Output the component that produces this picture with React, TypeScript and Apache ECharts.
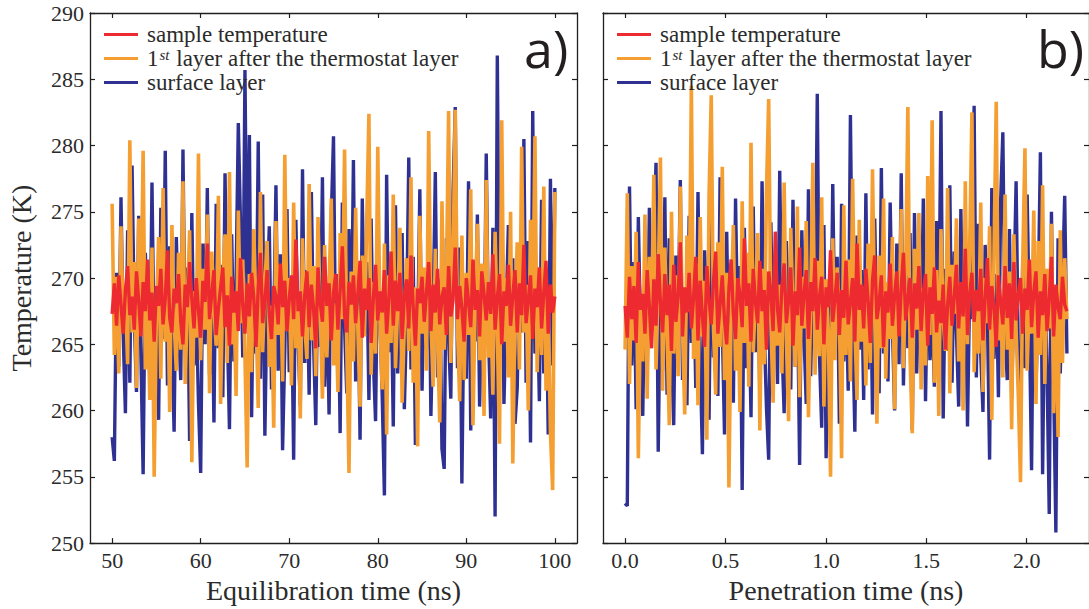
import { useEffect, useRef } from "react";
import * as echarts from "echarts";

// ---- data ----
const EQ_TIME_START = 50;
const EQ_TIME_END = 100;
const PEN_TIME_START = 0;
const PEN_TIME_END = 2.2;

const eqTicks = [50, 60, 70, 80, 90, 100];
const penTicks = [0, 0.5, 1, 1.5, 2];

const seriesNames = [
  "sample temperature",
  "1st layer after the thermostat layer",
  "surface layer",
];

const eqSample = [
  267.3, 269.6, 266.4, 270.2, 268.0, 265.8, 269.1, 270.9, 267.2, 268.6,
  266.1, 270.5, 268.3, 265.6, 269.7, 267.5, 271.4, 266.8, 268.9, 265.2,
  269.4, 267.9, 270.7, 266.5, 268.4, 272.1, 267.0, 265.9, 269.2, 268.1,
  270.3, 266.7, 265.0, 269.5, 267.8, 271.2, 268.5, 266.2, 270.0, 267.6,
  265.5, 269.8, 268.2, 272.6, 266.9, 268.8, 270.6, 265.7, 267.7, 269.3,
  270.8, 266.3, 268.7, 264.9, 270.1, 267.4, 269.0, 266.0, 271.5, 268.0,
  265.8, 269.6, 267.1, 270.4, 268.5, 264.8, 269.3, 271.9, 266.6, 268.2,
  270.6, 267.3, 265.4, 269.4, 268.6, 266.5, 271.1, 267.8, 269.8, 266.0,
  268.4, 270.2, 266.9, 272.9, 267.5, 269.0, 265.6, 268.7, 270.5, 266.3,
  269.5, 267.7, 264.7, 270.8, 268.1, 266.7, 271.6, 267.9, 269.6, 265.3,
  268.9, 270.3, 266.1, 269.1, 272.4, 267.2, 265.9, 269.7, 268.0, 270.2,
  266.6, 268.8, 271.3, 265.5, 269.2, 267.6, 270.0, 265.1, 268.5, 271.0,
  266.8, 269.0, 267.4, 270.6, 265.8, 268.4, 272.0, 266.4, 269.8, 267.5,
  270.4, 265.4, 268.7, 269.9, 266.2, 271.7, 267.8, 264.9, 269.2, 268.1,
  270.1, 266.7, 268.9, 271.2, 266.0, 269.5, 267.4, 270.7, 266.5, 268.6,
  269.3, 265.7, 270.9, 267.1, 268.3, 272.3, 266.9, 269.4, 267.7, 265.2,
  270.0, 268.2, 266.3, 271.4, 267.6, 269.1, 265.6, 270.5, 268.8, 266.8,
  269.7, 267.3, 271.8, 266.1, 268.5, 270.3, 265.0, 269.0, 267.9, 271.0,
  266.4, 268.7, 270.6, 265.9, 269.6, 267.2, 272.5, 266.6, 268.3, 270.2,
  265.4, 269.2, 267.8, 270.8, 266.2, 268.9, 271.3, 265.8, 269.5, 267.4,
  268.6,
];

const eqLayer1 = [
  275.6, 264.2, 270.1, 262.8, 273.9, 266.3, 268.7, 263.5, 280.4, 265.9,
  271.2, 261.7, 274.5, 267.0, 279.6, 263.1, 269.4, 260.8, 272.3, 255.0,
  267.5, 273.1, 262.4, 276.8, 265.2, 270.6, 259.9, 274.0, 266.8, 263.0,
  271.9, 264.6, 277.3, 262.0, 268.3, 273.6, 256.1, 269.0, 265.5, 279.4,
  263.8, 270.7, 266.1, 274.8, 261.3, 272.0, 267.7, 264.9, 276.2, 260.5,
  269.8, 273.3, 263.6, 278.0, 265.0, 268.5, 261.1, 275.1, 266.6, 271.4,
  264.1, 255.7, 270.3, 262.9, 273.7, 267.2, 260.2, 276.5, 264.4, 269.6,
  272.8, 263.3, 267.9, 258.7, 274.3, 265.7, 271.0, 262.2, 279.3, 266.0,
  270.0, 261.9, 275.7, 264.7, 268.9, 259.4, 273.0, 266.4, 263.9, 277.1,
  265.3, 270.9, 262.6, 274.6, 267.4, 260.9, 272.5, 264.0, 269.2, 276.0,
  263.4, 268.1, 261.4, 273.4, 266.9, 279.7, 264.8, 255.3, 270.5, 263.7,
  275.3, 266.2, 260.3, 271.7, 265.6, 274.2, 282.4, 262.7, 269.7, 264.3,
  279.9, 266.7, 261.6, 272.6, 258.2, 270.2, 265.1, 276.3, 263.2, 268.0,
  273.8, 260.6, 266.5, 271.5, 264.5, 277.6, 262.1, 269.3, 257.3, 274.7,
  265.8, 270.8, 263.0, 281.1, 267.1, 261.8, 272.2, 265.4, 259.1, 275.8,
  264.6, 269.9, 282.6, 263.6, 271.3, 282.7, 266.3, 260.7, 273.2, 262.3,
  270.4, 265.7, 276.7, 258.9, 268.2, 274.1, 263.8, 271.1, 259.6, 277.4,
  264.0, 268.6, 261.2, 273.5, 266.0, 257.5, 281.9, 265.2, 270.0, 262.5,
  275.0, 256.0, 267.8, 272.7, 263.1, 279.9, 265.9, 269.5, 260.0, 274.4,
  266.4, 280.7, 262.9, 270.7, 264.2, 276.9, 261.5, 268.4, 258.4, 254.0,
  276.5,
];

const eqSurface = [
  258.0, 256.2, 270.4, 263.3, 276.1, 265.7, 259.8, 273.6, 262.1, 278.5,
  267.0, 261.4, 274.7, 264.2, 255.2, 271.9, 266.8, 262.6, 277.2, 263.9,
  269.3, 259.3, 275.3, 265.4, 279.6, 261.9, 272.4, 264.9, 258.4, 273.1,
  266.2, 262.3, 279.7, 264.5, 270.8, 257.7, 274.9, 263.4, 268.0, 260.6,
  255.3, 272.6, 265.0, 276.8, 262.7, 269.5, 259.1, 275.6, 264.7, 271.0,
  261.0, 277.9, 266.5, 258.6, 273.3, 263.7, 270.1, 281.7, 274.1, 264.0,
  285.7, 267.6, 280.8, 259.5, 271.4, 264.3, 280.3, 262.4, 276.3, 258.1,
  268.7, 273.9, 261.6, 266.1, 277.0, 263.0, 271.8, 257.0, 264.6, 275.2,
  262.9, 269.1, 256.3, 274.4, 265.5, 260.4, 278.2, 263.6, 270.6, 261.2,
  276.5, 265.1, 258.9, 272.0, 264.8, 277.6, 261.8, 268.8, 259.7, 274.6,
  280.7, 263.5, 270.3, 258.3, 275.7, 266.3, 261.3, 273.7, 264.1, 278.9,
  262.2, 269.7, 257.8, 276.0, 265.8, 271.2, 260.8, 274.5, 263.8, 259.2,
  272.9, 266.9, 261.1, 253.6, 277.8, 264.4, 270.0, 258.8, 275.5, 262.8,
  268.3, 273.4, 260.1, 266.7, 279.1, 263.1, 271.6, 257.4, 265.3, 276.7,
  261.5, 270.2, 264.6, 274.2, 259.6, 267.3, 278.0, 262.5, 269.9, 257.1,
  255.6, 273.0, 265.6, 260.9, 276.4, 282.9, 263.2, 272.3, 254.5, 269.0,
  262.4, 277.3, 258.5, 271.3, 265.2, 274.8, 260.3, 268.5, 263.7, 279.4,
  266.0, 259.4, 273.8, 252.0, 286.8, 264.8, 276.2, 260.5, 267.5, 274.0,
  263.3, 271.5, 259.0, 261.7, 270.9, 265.9, 280.5, 262.1, 272.8, 257.6,
  282.6, 264.3, 269.2, 260.7, 275.9, 262.8, 270.7, 258.2, 277.5, 263.4,
  276.8,
];

const penSample = [
  267.9, 265.5, 270.1, 266.9, 269.4, 265.1, 271.2, 267.6, 268.8, 265.8,
  270.6, 267.8, 264.7, 269.9, 266.4, 271.8, 268.1, 265.9, 270.3, 267.2,
  269.5, 264.5, 271.0, 266.7, 268.6, 272.7, 265.6, 269.3, 267.4, 270.4,
  266.2, 268.5, 271.6, 265.3, 269.8, 267.1, 264.8, 270.9, 268.4, 266.5,
  269.7, 272.0, 265.8, 268.0, 270.2, 266.8, 265.0, 269.2, 271.4, 267.3,
  265.4, 270.0, 268.7, 266.3, 273.0, 267.9, 269.6, 265.2, 270.7, 268.2,
  266.6, 271.3, 267.5, 269.1, 264.6, 270.5, 268.9, 266.0, 273.5, 267.7,
  265.9, 269.4, 271.1, 266.6, 268.3, 270.8, 264.9, 269.0, 267.2, 272.3,
  266.4, 268.8, 270.6, 265.4, 269.7, 267.5, 271.5, 266.1, 268.6, 270.1,
  265.0, 269.3, 267.8, 272.1, 266.7, 268.4, 270.4, 265.7, 269.1, 267.0,
  271.3, 266.5, 268.2, 270.0, 265.2, 272.6, 267.6, 269.5, 266.2, 270.7,
  268.3, 265.1, 269.8, 271.7, 266.9, 268.1, 270.2, 264.8, 269.0, 267.4,
  271.1, 266.4, 268.7, 270.5, 265.6, 269.2, 271.9, 266.8, 268.4, 270.0,
  265.5, 269.6, 267.7, 270.9, 266.0, 268.9, 270.3, 264.9, 269.3, 267.3,
  270.8, 265.9, 268.3, 266.6, 269.5, 264.6, 268.0, 270.1, 266.4, 268.6,
  271.0, 266.2, 269.7, 267.1, 272.2, 265.7, 268.8, 270.4, 266.7, 269.1,
  267.5, 270.7, 265.3, 268.5, 271.5, 266.1, 269.4, 267.9, 264.8, 270.2,
  268.2, 266.5, 270.9, 267.0, 269.6, 265.4, 271.2, 266.8, 268.7, 270.0,
  265.8, 269.2, 267.6, 271.4, 266.3, 268.9, 270.5, 265.5, 269.0, 267.2,
  270.3, 266.0, 268.4, 271.6, 265.6, 269.5, 267.8, 266.9, 270.1, 268.0,
  267.5,
];

const penLayer1 = [
  264.6, 276.4, 262.0, 270.9, 265.3, 273.5, 256.4, 268.2, 263.7, 274.8,
  260.9, 271.6, 266.7, 277.8, 263.1, 269.4, 279.1, 261.5, 272.3, 265.8,
  258.9, 275.0, 264.3, 270.2, 262.6, 276.9, 266.0, 259.7, 273.2, 267.5,
  284.5, 263.9, 271.1, 260.4, 274.6, 265.6, 269.8, 257.8, 276.2, 283.8,
  266.3, 261.2, 272.7, 264.8, 278.4, 262.3, 270.4, 254.2, 267.9, 274.0,
  263.0, 269.1, 259.9, 275.8, 265.1, 271.9, 261.8, 280.2, 264.4, 268.6,
  273.4, 258.5, 270.7, 263.5, 276.6, 283.5, 266.8, 260.6, 272.0, 264.9,
  269.5, 262.8, 277.2, 265.5, 259.2, 273.8, 267.1, 263.3, 275.4, 261.0,
  270.1, 266.2, 274.3, 259.5, 268.0, 278.7, 262.7, 271.3, 264.1, 276.1,
  260.3, 269.9, 265.9, 255.0, 273.0, 263.8, 270.8, 267.6, 256.4, 275.5,
  264.2, 271.4, 262.2, 277.5, 266.5, 260.8, 274.4, 265.2, 269.3, 261.9,
  272.6, 263.6, 278.2, 267.0, 259.0, 271.7, 264.7, 276.0, 262.4, 269.7,
  265.4, 273.1, 260.1, 268.9, 266.4, 275.2, 263.2, 270.3, 282.9, 264.0,
  258.3, 272.2, 266.1, 274.9, 261.6, 269.2, 263.4, 277.7, 265.7, 281.9,
  262.1, 270.6, 259.6, 273.7, 266.9, 264.5, 276.8, 261.3, 271.0, 267.3,
  274.5, 263.7, 269.6, 260.0, 277.3, 265.0, 272.4, 282.5, 262.9, 268.4,
  264.3, 275.7, 261.4, 270.0, 266.6, 273.9, 259.3, 271.8, 283.3, 265.3,
  268.7, 262.5, 276.3, 264.6, 270.5, 258.6, 273.3, 266.0, 261.1, 254.6,
  271.2, 279.8, 263.0, 269.0, 265.8, 275.1, 260.5, 272.8, 264.2, 277.0,
  262.0, 270.7, 266.2, 274.1, 259.8, 268.5, 258.0, 273.6, 263.6, 271.5,
  266.9,
];

const penSurface = [
  253.0, 252.8, 276.9, 263.4, 271.2, 260.1, 274.6, 265.7, 259.6, 270.8,
  262.7, 275.3, 266.0, 272.4, 278.7, 256.9, 269.6, 263.0, 276.1, 261.2,
  273.0, 264.8, 258.9, 271.7, 266.6, 277.4, 262.3, 269.2, 260.4, 274.7,
  265.1, 270.5, 261.7, 276.5, 263.9, 256.7, 272.1, 267.2, 259.3, 275.1,
  264.0, 271.4, 261.1, 277.6, 266.4, 258.2, 273.5, 262.9, 269.8, 260.6,
  276.0, 265.3, 270.9, 254.0, 273.8, 263.2, 268.7, 259.5, 275.4, 264.4,
  271.0, 261.4, 277.3, 266.1, 260.2, 256.3, 274.2, 263.6, 270.1, 262.0,
  278.1, 264.9, 259.8, 272.8, 266.8, 261.6, 275.9, 263.3, 269.3, 255.9,
  273.6, 265.6, 260.5, 276.7, 262.6, 270.4, 267.0, 283.9, 264.1, 258.7,
  274.0, 256.4, 268.5, 262.4, 277.1, 265.0, 271.6, 259.0, 275.6, 263.7,
  269.5, 261.5, 282.3, 266.3, 258.4, 273.2, 264.6, 270.6, 260.8, 276.4,
  263.1, 271.9, 259.7, 274.5, 265.8, 261.3, 278.3, 264.3, 269.0, 262.2,
  275.7, 266.5, 260.0, 272.6, 263.5, 277.9, 261.9, 270.2, 264.7, 273.4,
  258.5, 274.9, 262.8, 269.9, 265.4, 276.0, 260.7, 271.3, 263.8, 268.1,
  261.8, 274.3, 266.2, 282.6, 259.4, 270.7, 264.5, 277.0, 262.1, 272.0,
  265.9, 260.3, 275.2, 263.5, 271.8, 258.8, 269.4, 266.9, 283.0, 262.5,
  274.1, 264.2, 259.9, 272.5, 267.3, 256.3, 276.8, 263.9, 270.3, 261.0,
  275.8, 281.0, 265.5, 262.3, 273.7, 260.9, 268.9, 277.3, 264.0, 259.1,
  271.5, 263.2, 276.3, 266.7, 255.5, 272.9, 261.7, 268.6, 279.5, 255.2,
  270.2, 263.0, 252.2, 275.0, 261.9, 250.8, 273.0, 262.8, 269.7, 276.2,
  264.3,
];

// ---- styling ----
const COLORS = { sample: "#ED2A2F", layer1: "#F59F32", surface: "#2E3192" };
const SERIF = '"Liberation Serif", "DejaVu Serif", serif';
const AXIS_COLOR = "#1f1f1f";
const TEXT_COLOR = "#2b2b2b";

function withTimes(values: number[], start: number, end: number) {
  const step = (end - start) / (values.length - 1);
  return values.map((v, i) => [start + i * step, v]);
}

export default function App() {
  const ref = useRef<HTMLDivElement>(null);

  useEffect(() => {
    if (!ref.current) return;
    const chart = echarts.init(ref.current, undefined, { renderer: "svg" });

    const axisLine = { show: true, onZero: false, lineStyle: { color: AXIS_COLOR, width: 1.3 } };
    const tick = (custom?: number[]) => ({
      show: true,
      inside: true,
      length: 5,
      lineStyle: { color: AXIS_COLOR, width: 1.2 },
      ...(custom ? { customValues: custom } : {}),
    });
    const labelStyle = {
      color: TEXT_COLOR,
      fontFamily: SERIF,
      fontSize: 22,
    };
    const nameStyle = { color: TEXT_COLOR, fontFamily: SERIF, fontSize: 28 };

    const xBase = (gridIndex: number, min: number, max: number, ticks: number[]) => ({
      type: "value",
      gridIndex,
      min,
      max,
      axisLine,
      splitLine: { show: false },
      axisTick: tick(ticks),
    });

    const yBase = (gridIndex: number, position: string) => ({
      type: "value",
      gridIndex,
      position,
      min: 250,
      max: 290,
      interval: 5,
      axisLine,
      splitLine: { show: false },
      axisTick: tick(),
      axisLabel: { show: false },
    });

    const lineSeries = (
      name: string,
      color: string,
      data: number[][],
      axisIndex: number,
      z: number,
      width: number
    ) => ({
      type: "line",
      name,
      color,
      xAxisIndex: axisIndex,
      yAxisIndex: axisIndex,
      data,
      showSymbol: false,
      symbol: "none",
      z,
      lineStyle: { color, width, join: "miter", miterLimit: 2 },
      clip: true,
    });

    const legendBase = (left: number) => ({
      orient: "vertical",
      left,
      top: 23,
      padding: 0,
      itemGap: 1,
      icon: "rect",
      itemWidth: 34,
      itemHeight: 3,
      data: seriesNames,
      selectedMode: false,
      formatter: (name: string) =>
        name === seriesNames[1]
          ? "{n|1}{s|st}{n| layer after the thermostat layer}"
          : "{n|" + name + "}",
      textStyle: {
        color: TEXT_COLOR,
        fontFamily: SERIF,
        fontSize: 23,
        padding: [0, 0, 0, 4],
        rich: {
          n: { fontFamily: SERIF, fontSize: 23, color: TEXT_COLOR, lineHeight: 23 },
          s: {
            fontFamily: SERIF,
            fontSize: 15,
            fontStyle: "italic",
            color: TEXT_COLOR,
            verticalAlign: "top",
            lineHeight: 15,
            padding: [0, 1, 0, 1],
          },
        },
      },
    });

    const option = {
      animation: false,
      backgroundColor: "#ffffff",
      grid: [
        { left: 90, top: 13, width: 487, height: 534 },
        { left: 603, top: 13, width: 487, height: 534 },
      ],
      legend: [legendBase(104), legendBase(617)],
      xAxis: [
        {
          ...xBase(0, 47.5, 102.5, eqTicks),
          position: "bottom",
          axisLabel: { ...labelStyle, margin: 6, customValues: eqTicks },
          name: "Equilibration time (ns)",
          nameLocation: "middle",
          nameGap: 30,
          nameTextStyle: nameStyle,
        },
        {
          ...xBase(0, 47.5, 102.5, eqTicks),
          position: "top",
          axisLabel: { show: false },
        },
        {
          ...xBase(1, -0.11, 2.31, penTicks),
          position: "bottom",
          axisLabel: {
            ...labelStyle,
            margin: 6,
            customValues: penTicks,
            formatter: (v: number) => v.toFixed(1),
          },
          name: "Penetration time (ns)",
          nameLocation: "middle",
          nameGap: 30,
          nameTextStyle: nameStyle,
        },
        {
          ...xBase(1, -0.11, 2.31, penTicks),
          position: "top",
          axisLabel: { show: false },
        },
      ],
      yAxis: [
        {
          ...yBase(0, "left"),
          axisLabel: { ...labelStyle, show: true, margin: 6 },
          name: "Temperature (K)",
          nameLocation: "middle",
          nameGap: 55,
          nameTextStyle: nameStyle,
        },
        yBase(0, "right"),
        yBase(1, "left"),
        yBase(1, "right"),
      ],
      series: [
        lineSeries(seriesNames[2], COLORS.surface, withTimes(eqSurface, EQ_TIME_START, EQ_TIME_END), 0, 2, 3.4),
        lineSeries(seriesNames[1], COLORS.layer1, withTimes(eqLayer1, EQ_TIME_START, EQ_TIME_END), 0, 3, 3.6),
        lineSeries(seriesNames[0], COLORS.sample, withTimes(eqSample, EQ_TIME_START, EQ_TIME_END), 0, 4, 3.4),
        lineSeries(seriesNames[2], COLORS.surface, withTimes(penSurface, PEN_TIME_START, PEN_TIME_END), 2, 2, 3.4),
        lineSeries(seriesNames[1], COLORS.layer1, withTimes(penLayer1, PEN_TIME_START, PEN_TIME_END), 2, 3, 3.6),
        lineSeries(seriesNames[0], COLORS.sample, withTimes(penSample, PEN_TIME_START, PEN_TIME_END), 2, 4, 3.4),
      ],
      graphic: [
        {
          type: "text",
          left: 524,
          top: 21,
          z: 10,
          style: { text: "a)", font: '52px "Open Sans", "Noto Sans", sans-serif', fill: "#231f20" },
        },
        {
          type: "text",
          left: 1037,
          top: 21,
          z: 10,
          style: { text: "b)", font: '52px "Open Sans", "Noto Sans", sans-serif', fill: "#231f20" },
        },
      ],
    };

    chart.setOption(option as any);
    return () => chart.dispose();
  }, []);

  return (
    <div
      ref={ref}
      style={{ position: "fixed", left: 0, top: 0, width: 1089, height: 609, background: "#fff" }}
    />
  );
}
